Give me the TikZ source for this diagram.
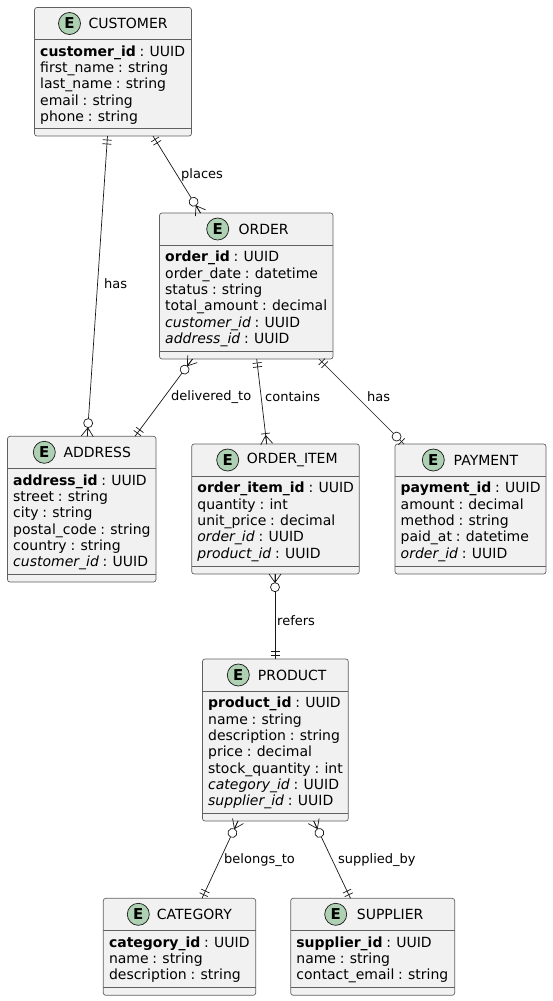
\documentclass[tikz,border=0pt]{standalone}
\usepackage{fontspec}
\setmainfont{DejaVu Sans}[WordSpace=0.85]
\usetikzlibrary{calc}
\definecolor{boxfill}{HTML}{F1F1F1}
\definecolor{boxline}{HTML}{606060}
\definecolor{relline}{HTML}{181818}
\definecolor{spotfill}{HTML}{ADD1B2}
\tikzset{
  x=1pt,y=-1pt,
  ebox/.style={draw=boxline,fill=boxfill,line width=0.7pt,rounded corners=2.5pt,inner sep=0pt,outer sep=0pt},
  sepline/.style={draw=boxline,line width=0.7pt},
  spot/.style={circle,draw=relline,fill=spotfill,line width=0.7pt,minimum size=22pt,inner sep=0pt,font=\fontsize{15}{15}\selectfont\bfseries},
  etitle/.style={anchor=west,inner sep=0pt,font=\fontsize{14}{14}\selectfont},
  erows/.style={anchor=north west,inner sep=0pt,align=left,font=\fontsize{14}{16.3}\selectfont},
  rel/.style={draw=relline,line width=0.7pt},
  rlabel/.style={anchor=west,inner sep=0pt,font=\fontsize{13}{13}\selectfont,text=black},
}
% id x1 y1 x2 y2 spotx titlex title rows
\newcommand{\entity}[9]{%
  \node[ebox,minimum width={(#4-#2)*1pt},minimum height={(#5-#3)*1pt}] (#1) at ({(#2+#4)/2},{(#3+#5)/2}) {};
  \draw[sepline] (#1.north west) ++(0,32) -- ++({#4-#2},0);
  \draw[sepline] (#1.south west) ++(0,-8) -- ++({#4-#2},0);
  \node[spot] (#1spot) at (#6,{#3+16}) {E};
  \node[etitle] (#1title) at (#7,{#3+16}) {#8};
  \node[erows] (#1rows) at ({#2+5.5},{#3+38}) {#9};
}
\newcommand{\mone}{\draw[rel] (4,-4.5) -- (4,4.5) (8,-4.5) -- (8,4.5);}
\newcommand{\mzeromany}{\draw[rel] (8.5,0) -- (0,-6) (8.5,0) -- (0,6) (8.5,0) -- (0,0);
  \draw[rel,fill=white] (13.2,0) circle[radius=4.5];}
\newcommand{\mzeroone}{\draw[rel] (3.5,-4.5) -- (3.5,4.5);
  \draw[rel,fill=white] (10.5,0) circle[radius=4.5];}
\newcommand{\monemany}{\draw[rel] (8.5,0) -- (0,-6) (8.5,0) -- (0,6) (8.5,0) -- (0,0) (10.5,-4.5) -- (10.5,4.5);}
% start end startmarker endmarker
\newcommand{\relation}[4]{%
  \draw[rel] (#1) -- (#2);
  \pgfmathanglebetweenpoints{\pgfpointanchor{#1}{center}}{\pgfpointanchor{#2}{center}}%
  \let\angAB\pgfmathresult
  \begin{scope}[shift={(#1)},rotate=\angAB]#3\end{scope}
  \pgfmathanglebetweenpoints{\pgfpointanchor{#2}{center}}{\pgfpointanchor{#1}{center}}%
  \let\angBA\pgfmathresult
  \begin{scope}[shift={(#2)},rotate=\angBA]#4\end{scope}
}
\begin{document}
\begin{tikzpicture}
\useasboundingbox (0,0) rectangle (552,1001);
\fill[white] (0,0) rectangle (552,1001);
\entity{customer}{34.5}{7.5}{191.5}{136}{69.5}{88.3}{CUSTOMER}{\textbf{customer\_id} : UUID\\first\_name : string\\last\_name : string\\email : string\\phone : string}
\entity{order}{159.5}{213}{333}{359}{217.7}{238.3}{ORDER}{\textbf{order\_id} : UUID\\order\_date : datetime\\status : string\\total\_amount : decimal\\\textit{customer\_id} : UUID\\\textit{address\_id} : UUID}
\entity{address}{7.5}{436.3}{156}{582}{44.3}{63.3}{ADDRESS}{\textbf{address\_id} : UUID\\street : string\\city : string\\postal\_code : string\\country : string\\\textit{customer\_id} : UUID}
\entity{item}{191.7}{444}{359.3}{574}{227.7}{246.7}{ORDER\_ITEM}{\textbf{order\_item\_id} : UUID\\quantity : int\\unit\_price : decimal\\\textit{order\_id} : UUID\\\textit{product\_id} : UUID}
\entity{payment}{395}{444}{546}{574}{433.3}{453.5}{PAYMENT}{\textbf{payment\_id} : UUID\\amount : decimal\\method : string\\paid\_at : datetime\\\textit{order\_id} : UUID}
\entity{product}{202.5}{659}{348.3}{821}{238.3}{257.7}{PRODUCT}{\textbf{product\_id} : UUID\\name : string\\description : string\\price : decimal\\stock\_quantity : int\\\textit{category\_id} : UUID\\\textit{supplier\_id} : UUID}
\entity{category}{103.3}{898.3}{255.7}{995.3}{138.3}{156.7}{CATEGORY}{\textbf{category\_id} : UUID\\name : string\\description : string}
\entity{supplier}{290.7}{898.3}{454.7}{995.3}{335.7}{356.7}{SUPPLIER}{\textbf{supplier\_id} : UUID\\name : string\\contact\_email : string}

\coordinate (a1) at ($(customer.south west)+(73,0)$);
\coordinate (b1) at ($(address.north west)+(79.8,0)$);
\relation{a1}{b1}{\mone}{\mzeromany}
\coordinate (a2) at ($(customer.south west)+(118.5,0)$);
\coordinate (b2) at ($(order.north west)+(41,0)$);
\relation{a2}{b2}{\mone}{\mzeromany}
\coordinate (a3) at ($(order.south west)+(33,0)$);
\coordinate (b3) at ($(address.north west)+(127.5,0)$);
\relation{a3}{b3}{\mzeromany}{\mone}
\coordinate (a4) at ($(order.south west)+(97.2,0)$);
\coordinate (b4) at ($(item.north west)+(75,0)$);
\relation{a4}{b4}{\mone}{\monemany}
\coordinate (a5) at ($(order.south west)+(159.5,0)$);
\coordinate (b5) at ($(payment.north west)+(9,0)$);
\relation{a5}{b5}{\mone}{\mzeroone}
\coordinate (a6) at ($(item.south west)+(83.3,0)$);
\coordinate (b6) at ($(product.north west)+(72.5,0)$);
\relation{a6}{b6}{\mzeromany}{\mone}
\coordinate (a7) at ($(product.south west)+(35.5,0)$);
\coordinate (b7) at ($(category.north west)+(98.7,0)$);
\relation{a7}{b7}{\mzeromany}{\mone}
\coordinate (a8) at ($(product.south west)+(111.2,0)$);
\coordinate (b8) at ($(supplier.north west)+(59.8,0)$);
\relation{a8}{b8}{\mzeromany}{\mone}

\node[rlabel] (l1) at (104,284) {has};
\node[rlabel] (l2) at (181,175) {places};
\node[rlabel] (l3) at (171,397) {delivered\_to};
\node[rlabel] (l4) at (265,397) {contains};
\node[rlabel] (l5) at (367,397) {has};
\node[rlabel] (l6) at (277,621) {refers};
\node[rlabel] (l7) at (224,860) {belongs\_to};
\node[rlabel] (l8) at (338,860) {supplied\_by};
\end{tikzpicture}
\end{document}
